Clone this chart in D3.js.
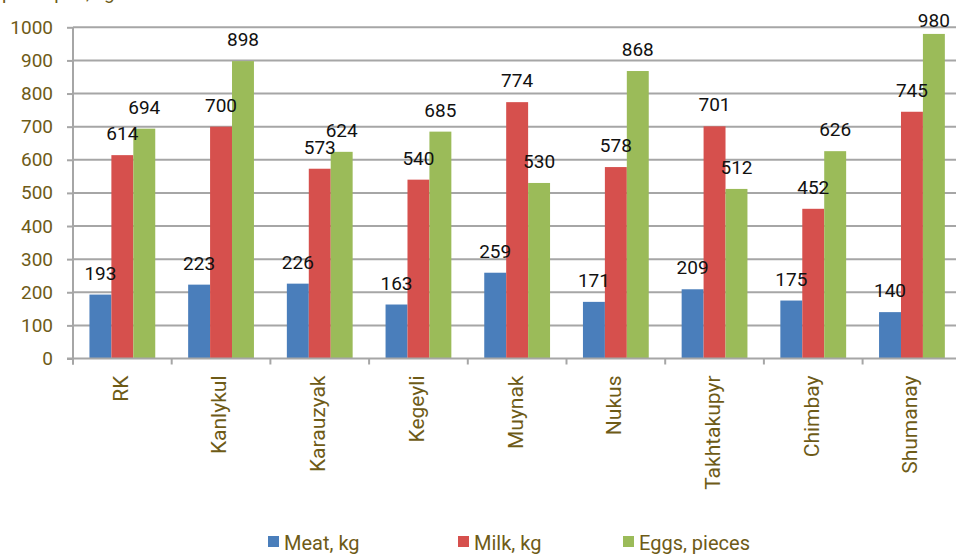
<!DOCTYPE html>
<html>
<head>
<meta charset="utf-8">
<script src="https://cdn.jsdelivr.net/npm/d3@7"></script>
<style>
  html, body { margin: 0; padding: 0; background: #fff; }
  svg { display: block; }
  text { font-family: Roboto, "DejaVu Sans Condensed", sans-serif; }
</style>
</head>
<body>
<script>
// Per-district consumption figures
const categories = ["RK", "Kanlykul", "Karauzyak", "Kegeyli", "Muynak", "Nukus", "Takhtakupyr", "Chimbay", "Shumanay"];
const meat = [193, 223, 226, 163, 259, 171, 209, 175, 140];
const milk = [614, 700, 573, 540, 774, 578, 701, 452, 745];
const eggs = [694, 898, 624, 685, 530, 868, 512, 626, 980];
const seriesNames = ["Meat, kg", "Milk, kg", "Eggs, pieces"];
const seriesColors = ["#4a7ebb", "#d6504d", "#9bbb59"];
const yTicks = [0, 100, 200, 300, 400, 500, 600, 700, 800, 900, 1000];

const W = 956, H = 554;
const plotLeft = 73, plotTop = 27.3, plotBottom = 358.5;
const bandW = 98.7;
const plotRight = plotLeft + bandW * categories.length;
const tickColor = "#6e5b17";
const gridColor = "#a6a6a6";
const fontFam = "Roboto, DejaVu Sans Condensed, sans-serif";

const svg = d3.select("body").append("svg").attr("width", W).attr("height", H);

const series = [meat, milk, eggs];
const rows = categories.map((c, i) => ({ cat: c, values: series.map(s => s[i]) }));

const x = d3.scaleBand().domain(categories).range([plotLeft, plotRight]).paddingInner(0).paddingOuter(0);
const inner = d3.scaleBand().domain(d3.range(series.length)).range([0, x.bandwidth()]).paddingInner(0).paddingOuter(0.75);
const y = d3.scaleLinear().domain([0, 1000]).range([plotBottom, plotTop]);

// axis title, partly above the top edge
svg.append("text").attr("x", 2).attr("y", -1).attr("font-size", 19).attr("fill", tickColor).text("per capita, kg");

// horizontal gridlines
svg.append("g").selectAll("line").data(yTicks.filter(t => t > 0)).join("line")
  .attr("x1", plotLeft).attr("x2", W).attr("y1", d => y(d)).attr("y2", d => y(d))
  .attr("stroke", gridColor).attr("stroke-width", 2);

// y axis
const yAxis = svg.append("g").attr("transform", `translate(${plotLeft},0)`)
  .call(d3.axisLeft(y).tickValues(yTicks).tickSize(6).tickPadding(14).tickFormat(d3.format("d")));
yAxis.select(".domain").attr("stroke", gridColor).attr("stroke-width", 2).attr("d", `M0,${plotBottom + 6}V${plotTop}`);
yAxis.selectAll(".tick line").attr("stroke", gridColor).attr("stroke-width", 2);
yAxis.selectAll(".tick text").attr("fill", tickColor).attr("font-size", 19).attr("font-family", fontFam);

// bars
const groups = svg.append("g").selectAll("g").data(rows).join("g")
  .attr("transform", d => `translate(${x(d.cat)},0)`);
groups.selectAll("rect").data(d => d.values.map((v, k) => ({ v, k }))).join("rect")
  .attr("x", d => inner(d.k)).attr("width", inner.bandwidth())
  .attr("y", d => y(d.v)).attr("height", d => y(0) - y(d.v))
  .attr("fill", d => seriesColors[d.k]);

// x axis baseline, category ticks and labels
svg.append("line").attr("x1", plotLeft - 6).attr("x2", W).attr("y1", plotBottom).attr("y2", plotBottom)
  .attr("stroke", gridColor).attr("stroke-width", 2);
svg.append("g").selectAll("line").data(d3.range(categories.length + 1)).join("line")
  .attr("x1", i => plotLeft + i * x.bandwidth()).attr("x2", i => plotLeft + i * x.bandwidth())
  .attr("y1", plotBottom).attr("y2", plotBottom + 6).attr("stroke", gridColor).attr("stroke-width", 2);
svg.append("g").selectAll("text").data(categories).join("text")
  .attr("transform", d => `translate(${x(d) + x.bandwidth() / 2 - 2},${plotBottom + 17}) rotate(-90)`)
  .attr("text-anchor", "end").attr("dy", "0.35em")
  .attr("font-size", 21).attr("fill", tickColor).text(d => d);

// value labels
groups.selectAll("text.val").data(d => d.values.map((v, k) => ({ v, k }))).join("text")
  .attr("class", "val")
  .attr("x", d => inner(d.k) + inner.bandwidth() / 2)
  .attr("y", d => Math.max(y(d.v) - 15, 27))
  .attr("text-anchor", "middle").attr("font-size", 19).attr("fill", "#111")
  .text(d => d.v);

// legend
const legendX = [268, 458, 623];
const legend = svg.append("g").selectAll("g").data(seriesNames).join("g")
  .attr("transform", (d, i) => `translate(${legendX[i]},536)`);
legend.append("rect").attr("width", 11).attr("height", 11).attr("fill", (d, i) => seriesColors[i]);
legend.append("text").attr("x", 16).attr("y", 14).attr("font-size", 20).attr("fill", tickColor).text(d => d);
</script>
</body>
</html>
